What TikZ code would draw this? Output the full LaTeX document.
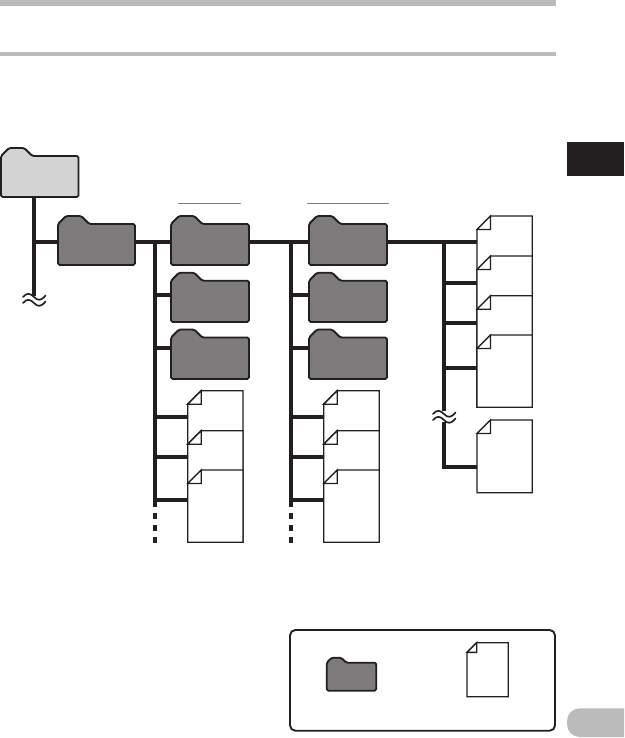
\documentclass[tikz,border=0pt]{standalone}
\usetikzlibrary{fit,calc}
\definecolor{ink}{HTML}{231F20}
\definecolor{folderdark}{HTML}{7D7B7C}
\definecolor{folderlight}{HTML}{D3D3D3}
\definecolor{bargray}{HTML}{BBBBBB}
\definecolor{rulegray}{HTML}{808080}
\tikzset{
  wire/.style={draw=ink,line width=3pt},
  dotted wire/.style={draw=ink,line width=3pt,dash pattern=on 4.5pt off 4.5pt},
  wave/.style={draw=ink,line width=1.25pt,line cap=round},
  folder outline/.style={draw=ink,line width=1.4pt,line join=round,rounded corners=1.2pt},
  file outline/.style={draw=ink,line width=1pt,line join=miter,fill=white},
  anchor box/.style={inner sep=0pt,outer sep=0pt},
  bar/.style={fill=bargray,draw=none},
  thin rule/.style={draw=rulegray,line width=0.7pt},
}
% name, left, top of tab, right, bottom, tab depth, fill
\newcommand{\folderbox}[7]{%
  \pgfmathsetmacro{\bt}{#3+#6}%
  \pgfmathsetmacro{\ta}{#2+#6}%
  \pgfmathsetmacro{\tb}{#2+2.9*#6}%
  \pgfmathsetmacro{\tc}{#2+3.9*#6}%
  \path[folder outline,fill=#7] (#2,\bt) -- (\ta,#3) -- (\tb,#3) -- (\tc,\bt) -- (#4,\bt) -- (#4,#5) -- (#2,#5) -- cycle;
  \node[anchor box,fit={(#2,#3)(#4,#5)}] (#1) {};%
}
% name, left, top, right, bottom, fold size
\newcommand{\filebox}[6]{%
  \pgfmathsetmacro{\fx}{#2+#6}%
  \pgfmathsetmacro{\fy}{#3+#6}%
  \path[file outline] (#2,\fy) -- (\fx,#3) -- (#4,#3) -- (#4,#5) -- (#2,#5) -- cycle;
  \path[file outline] (#2,\fy) -- (\fx,#3) -- (\fx,\fy) -- cycle;
  \node[anchor box,fit={(#2,#3)(#4,#5)}] (#1) {};%
}
\begin{document}
\begin{tikzpicture}[x=0.75pt,y=-0.75pt]
\useasboundingbox (0,0) rectangle (624,738);
% page furniture
\fill[bar] (0,0) rectangle (556,6);
\fill[bar] (0,52) rectangle (556,56);
\fill[ink] (567,142.3) rectangle (623.5,175.7);
\begin{scope}
\clip (0,0) rectangle (624,738);
\fill[bar,rounded corners=9.5pt] (567,708.3) rectangle (640,737);
\end{scope}
\draw[thin rule] (178,203.3) -- (241,203.3);
\draw[thin rule] (307,203.3) -- (389,203.3);
% folders
\folderbox{root}{1}{148}{78.5}{197}{8}{folderlight}
\folderbox{fa}{58}{216}{135}{265}{8}{folderdark}
\folderbox{fb}{171}{216}{249}{265}{8}{folderdark}
\folderbox{fc}{171}{272.7}{249}{322}{8}{folderdark}
\folderbox{fd}{171}{329.5}{249}{379}{8}{folderdark}
\folderbox{fe}{309}{216}{387}{265}{8}{folderdark}
\folderbox{ff}{309}{272.7}{387}{322}{8}{folderdark}
\folderbox{fg}{309}{329.5}{387}{379}{8}{folderdark}
% files, column 1
\filebox{ga}{187.7}{390.7}{243}{542.3}{13.5}
\filebox{gb}{187.7}{430.7}{243}{542.3}{13.5}
\filebox{gc}{187.7}{470}{243}{542.3}{13.5}
% files, column 2
\filebox{ha}{323.7}{390.7}{379.3}{542.3}{13.5}
\filebox{hb}{323.7}{430.7}{379.3}{542.3}{13.5}
\filebox{hc}{323.7}{470}{379.3}{542.3}{13.5}
% files, column 3
\filebox{ka}{477}{216}{532.3}{407.3}{13.5}
\filebox{kb}{477}{256}{532.3}{407.3}{13.5}
\filebox{kc}{477}{295.7}{532.3}{407.3}{13.5}
\filebox{kd}{477}{335}{532.3}{407.3}{13.5}
\filebox{ke}{477}{420}{532.3}{492.7}{13.5}
% junctions
\coordinate (r1) at (34,241.7);
\coordinate (r2) at (34,296);
\coordinate (a1) at (155,241.7);
\coordinate (a2) at (155,513);
\coordinate (a3) at (155,543);
\coordinate (b1) at (291,241.7);
\coordinate (b2) at (291,513);
\coordinate (b3) at (291,543);
\coordinate (c1) at (444,241.7);
\coordinate (c2) at (444,411);
\coordinate (c3) at (444,424);
\coordinate (c4) at (444,466.7);
% trunks
\draw[wire] (root.south -| r1) -- (r2);
\draw[wire] (r1) -- (fa.west |- r1);
\draw[wire] (fa.east |- a1) -- (fb.west |- a1);
\draw[wire] (fb.east |- b1) -- (fe.west |- b1);
\draw[wire] (fe.east |- c1) -- (ka.west |- c1);
\draw[wire] (a1) -- (155,507);
\draw[wire] (b1) -- (291,507);
\draw[wire] (c1) -- (c2);
\draw[wire,line cap=rect] (c3) -- (c4);
\draw[dotted wire] (a2) -- (a3);
\draw[dotted wire] (b2) -- (b3);
% branches
\draw[wire] (a1 |- 0,294.7) -- (fc.west |- 0,294.7);
\draw[wire] (a1 |- 0,347.5) -- (fd.west |- 0,347.5);
\draw[wire] (a1 |- 0,416.7) -- (ga.west |- 0,416.7);
\draw[wire] (a1 |- 0,456.7) -- (ga.west |- 0,456.7);
\draw[wire] (a1 |- 0,499.7) -- (ga.west |- 0,499.7);
\draw[wire] (b1 |- 0,294.7) -- (ff.west |- 0,294.7);
\draw[wire] (b1 |- 0,347.5) -- (fg.west |- 0,347.5);
\draw[wire] (b1 |- 0,416.7) -- (ha.west |- 0,416.7);
\draw[wire] (b1 |- 0,456.7) -- (ha.west |- 0,456.7);
\draw[wire] (b1 |- 0,499.7) -- (ha.west |- 0,499.7);
\draw[wire] (c1 |- 0,283) -- (ka.west |- 0,283);
\draw[wire] (c1 |- 0,322.7) -- (ka.west |- 0,322.7);
\draw[wire] (c1 |- 0,367.7) -- (ka.west |- 0,367.7);
\draw[wire] (c4) -- (ka.west |- c4);
% break marks
\foreach \yy in {297,303} {
  \draw[wave] (23,\yy) .. controls (27,\yy-4.5) and (30,\yy-4) .. (34,\yy) .. controls (38,\yy+4) and (41,\yy+4) .. (45.5,\yy-1.5);
}
\foreach \yy in {414,420} {
  \draw[wave] (433,\yy) .. controls (437,\yy-4.5) and (440,\yy-4) .. (444,\yy) .. controls (448,\yy+4) and (451,\yy+4) .. (455.5,\yy-1.5);
}
% legend
\draw[ink,line width=1.4pt,rounded corners=4pt] (290,630) rectangle (555,730.7) node[anchor box,pos=0.5] (legend) {};
\folderbox{lf}{326.7}{657.7}{376.3}{690.7}{5}{folderdark}
\filebox{lg}{467}{642.7}{508.3}{696.7}{9.7}
\end{tikzpicture}
\end{document}
